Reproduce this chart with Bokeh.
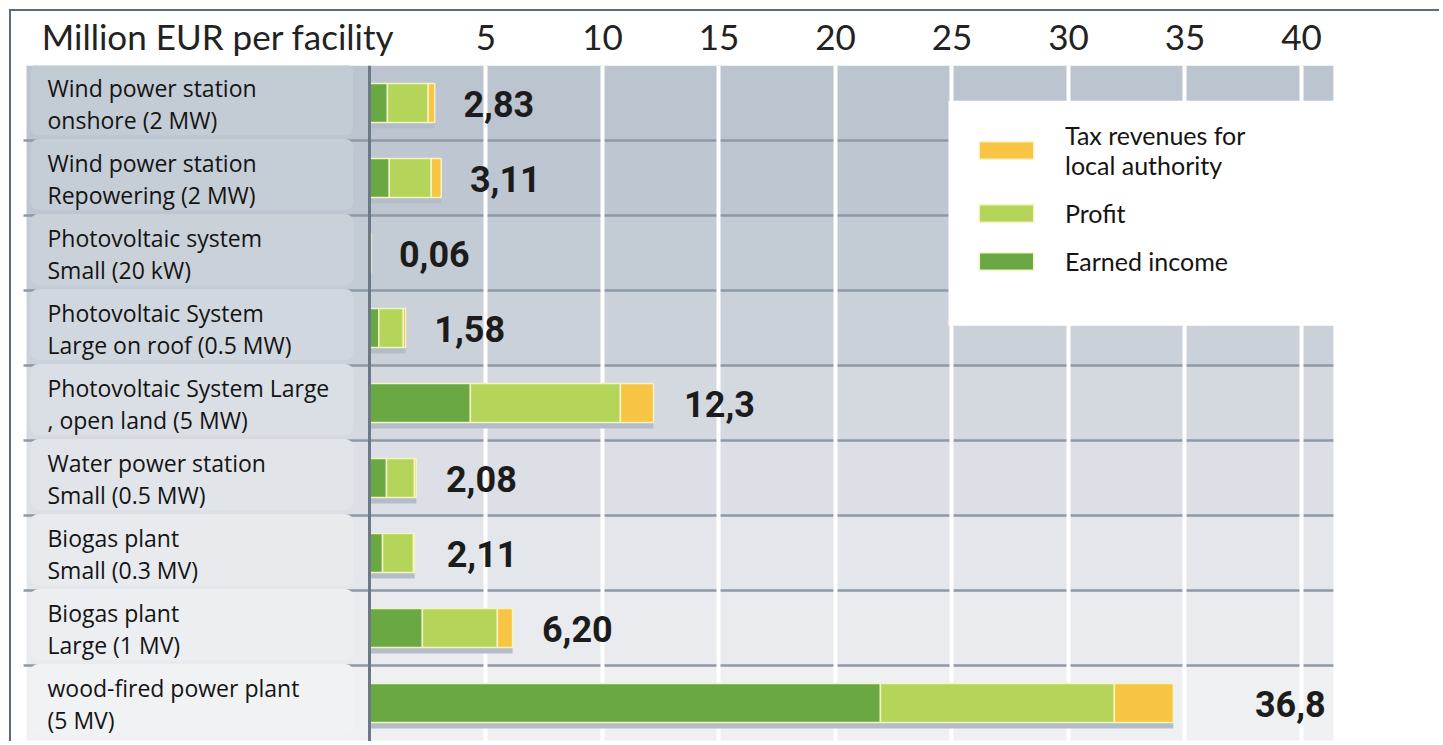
from bokeh.plotting import figure
from bokeh.models import (Range1d, FixedTicker, Span, BoxAnnotation,
                          Legend, LegendItem, ColumnDataSource)
from bokeh.core.properties import value
from bokeh.embed import file_html
from bokeh.resources import INLINE

# ---------------- data ----------------
facilities = [
    "Wind power station\nonshore (2 MW)",
    "Wind power station\nRepowering (2 MW)",
    "Photovoltaic system\nSmall (20 kW)",
    "Photovoltaic System\nLarge on roof (0.5 MW)",
    "Photovoltaic System Large\n, open land (5 MW)",
    "Water power station\nSmall (0.5 MW)",
    "Biogas plant\nSmall (0.3 MV)",
    "Biogas plant\nLarge (1 MV)",
    "wood-fired power plant\n(5 MV)",
]
earned_income = [0.77, 0.85, 0.02, 0.40, 4.33, 0.73, 0.56, 2.27, 21.93]
profit        = [1.75, 1.80, 0.03, 1.05, 6.44, 1.20, 1.33, 3.22, 10.04]
tax_revenues  = [0.28, 0.43, 0.01, 0.10, 1.42, 0.08, 0.05, 0.65, 2.53]
totals        = [2.83, 3.11, 0.06, 1.58, 12.3, 2.08, 2.11, 6.20, 36.8]
total_labels  = ["2,83", "3,11", "0,06", "1,58", "12,3", "2,08", "2,11", "6,20", "36,8"]
x_ticks       = [5, 10, 15, 20, 25, 30, 35, 40]
axis_title    = "Million EUR per facility"
axis_title_at = -6.5
legend_labels = ["Tax revenues for\nlocal authority", "Profit", "Earned income"]

# ---------------- styling ----------------
row_colors = ["#bcc5cf", "#bec7d1", "#c3cbd4", "#cad1d9", "#d4d9e0",
              "#dcdfe5", "#e3e6ea", "#e9ebee", "#eef0f2"]
box_colors = ["#c3cbd4", "#c5cdd6", "#cad1d9", "#d1d7de", "#dadfe5",
              "#e1e4e9", "#e8eaee", "#eceef1", "#f1f2f4"]
C_EARN, C_PROF, C_TAX = "#6aa844", "#b5d45a", "#f8c443"
OUTLINE = "#f2f4c4"

n = len(facilities)
ys = list(range(n))
e_end = [e for e in earned_income]
p_end = [e + p for e, p in zip(earned_income, profit)]
t_end = [e + p + t for e, p, t in zip(earned_income, profit, tax_revenues)]

src = ColumnDataSource(dict(
    y=ys, fac=facilities, e_end=e_end, p_end=p_end, t_end=t_end,
    zero=[0] * n, tot=totals, lab=total_labels,
    shadow_y=[y + 0.08 for y in ys],
    row_col=row_colors, box_col=box_colors,
    top=[y - 0.5 for y in ys], bot=[y + 0.5 for y in ys],
    btop=[y - 0.52 for y in ys], bbot=[y + 0.43 for y in ys],
))

X0, X1 = -15.365, 46.01
p = figure(width=1430, height=732, x_range=Range1d(X0, X1), y_range=Range1d(8.54, -0.5),
           output_backend="svg", toolbar_location=None, x_axis_location="above",
           y_axis_location=None, min_border_left=0, min_border_right=0,
           min_border_bottom=0, min_border_top=54)
p.styles = {"margin-top": "9px", "margin-left": "9px",
            "border-top": "2px solid #5b6b7a", "border-left": "2px solid #5b6b7a"}
p.outline_line_color = None
p.background_fill_color = "white"
p.border_fill_color = "white"

# row backgrounds
p.quad(left=-14.72, right=41.37, top="top", bottom="bot", source=src,
       fill_color="row_col", line_color=None, level="image")
# row separators
p.segment(x0=-14.85, x1=41.37, y0=[y + 0.5 for y in ys[:-1]], y1=[y + 0.5 for y in ys[:-1]],
          line_color="#8e99a6", line_width=2.5, level="image")
# label boxes
p.quad(left=-14.55, right=-0.7, top="btop", bottom="bbot", source=src,
       fill_color="box_col", line_color=None, level="image", border_radius=8)

# grid
p.xgrid.ticker = FixedTicker(ticks=x_ticks)
p.xgrid.grid_line_color = "white"
p.xgrid.grid_line_width = 4
p.ygrid.visible = False

# axis (tick labels + header text)
ax = p.xaxis[0]
ax.ticker = FixedTicker(ticks=[axis_title_at] + x_ticks)
ax.major_label_overrides = {axis_title_at: axis_title}
ax.axis_line_color = None
ax.major_tick_line_color = None
ax.minor_tick_line_color = None
ax.major_label_text_font = "Lato"
ax.major_label_text_font_size = "35px"
ax.major_label_text_color = "#222222"
ax.major_label_standoff = 3

# shadows and bars
H = 0.52
p.hbar(y="shadow_y", left="zero", right="t_end", height=H, source=src,
       fill_color="#b4bdc7", line_color=None)
r_e = p.hbar(y="y", left="zero", right="e_end", height=H, source=src,
             fill_color=C_EARN, line_color=OUTLINE, line_width=1.5)
r_p = p.hbar(y="y", left="e_end", right="p_end", height=H, source=src,
             fill_color=C_PROF, line_color=OUTLINE, line_width=1.5)
r_t = p.hbar(y="y", left="p_end", right="t_end", height=H, source=src,
             fill_color=C_TAX, line_color=OUTLINE, line_width=1.5)

# category labels
p.text(x=-13.82, y="y", text="fac", source=src, text_font=value("Open Sans"),
       text_font_size="23px", text_color="#141414", text_baseline="middle",
       text_align="left", text_line_height=1.03, y_offset=1)
# value labels
p.text(x="tot", y="y", text="lab", source=src, text_font=value("Roboto"),
       text_font_style="bold", text_font_size="36px", text_color="#1c1c1c",
       text_baseline="middle", text_align="left", x_offset=28, y_offset=1)

# vertical axis line at zero
p.add_layout(Span(location=0, dimension="height", line_color="#6b7886", line_width=3))

# legend background and legend
p.add_layout(BoxAnnotation(left=24.85, right=41.46, top=-0.03, bottom=2.97,
                           fill_color="white", fill_alpha=1.0, line_color=None))
legend = Legend(items=[LegendItem(label=legend_labels[0], renderers=[r_t]),
                       LegendItem(label=legend_labels[1], renderers=[r_p]),
                       LegendItem(label=legend_labels[2], renderers=[r_e])],
                location=(961, 467), glyph_width=68, glyph_height=22,
                label_standoff=25, padding=0, spacing=18, margin=0,
                label_text_font="Lato", label_text_font_size="25px",
                label_text_line_height=1.25,
                label_text_color="#141414", background_fill_alpha=0,
                border_line_alpha=0)
p.add_layout(legend)

open("out.html", "w").write(file_html(p, INLINE))
